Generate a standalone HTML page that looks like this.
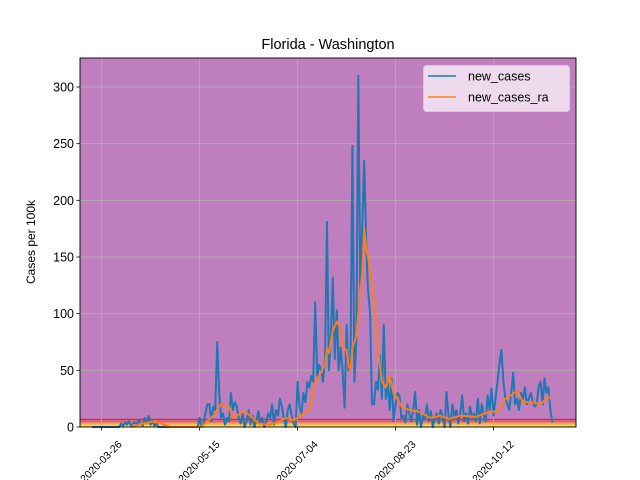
<!DOCTYPE html>
<html><head><meta charset="utf-8"><style>
html,body{margin:0;padding:0;background:#fff;}
svg{display:block;font-family:"Liberation Sans","DejaVu Sans",sans-serif;}
</style></head><body>
<svg id="chart" width="640" height="480" viewBox="0 0 640 480" xmlns="http://www.w3.org/2000/svg">
<rect x="0" y="0" width="640" height="480" fill="#fff"/>
<text x="328" y="49" font-size="14.5" text-anchor="middle" fill="#000">Florida - Washington</text>
<text transform="translate(35,242) rotate(-90)" font-size="12" text-anchor="middle" fill="#000">Cases per 100k</text>
<g id="plot"></g>
</svg>
<script>
// days since 2020-03-15
const blueStart = 6;
const blueValues = [
0,0,0,0,0,0,0,0,0,0,0,0,0,0,0,
3,1,4,2,5,1,3,4,2,6,3,1,8,3,10,2,5,1,3,0,
0,0,0,0,0,0,0,0,0,0,0,0,0,0,0,0,0,0,0,0,8,
0,3,12,20,20,5,18,15,75,30,8,12,2,8,5,30,15,22,18,8,3,12,0,5,15,2,10,0,6,14,3,8,0,5,12,8,20,2,15,10,
25,18,8,0,15,20,10,3,0,40,18,12,30,22,40,35,45,40,110,45,55,50,40,
60,181,50,80,132,60,103,50,70,50,17,90,50,60,248,40,77,310,120,178,235,160,120,100,20,20,40,33,63,25,90,25,40,15,43,5,
20,30,28,8,10,4,20,12,5,15,31,2,15,0,10,8,20,5,14,0,8,12,3,15,10,0,31,10,0,20,8,15,3,12,28,5,12,3,18,8,
12,5,25,3,20,10,5,28,15,34,10,25,40,55,68,40,25,20,15,30,48,20,25,15,30,25,35,20,25,30,22,18,20,35,40,20,43,30,35,15,4
];
const raDays = [26,32,38,46,61,63,68,72,76,78,82,84,88,91,97,102,105,109,114,117,120,122,125,126,127,129,131,133,134,136,137,138,139,141,143,144,145,146,147,150,152,154,156,158,160,162,164,168,172,179,184,188,194,202,210,213,217,220,223,226,230,235,239,240];
const raValues = [0,3,5,0,0,2,10,20,18,8,12,14,8,3,2,5,8,6,12,15,40,45,55,70,65,85,93,88,70,68,55,50,70,80,120,135,175,157,150,110,70,40,35,45,30,25,18,15,14,8,10,7,10,9,14,13,25,28,32,22,22,20,27,25];
const yTicks = [0,50,100,150,200,250,300];
const xTickDays = [11,61,111,161,211];
const xTickLabels = ["2020-03-26","2020-05-15","2020-07-04","2020-08-23","2020-10-12"];
const bands = [[0,2.2,"#f5d84a"],[2.2,4,"#f5a25a"],[4,6.7,"#e0607a"]];

const L=80,R=576,T=58,B=427;
const X = d => L + d*1.96;
const Y = v => B - v*(340/300);
const NS="http://www.w3.org/2000/svg";
const g=document.getElementById('plot');
function mk(tag,attrs,parent){const e=document.createElementNS(NS,tag);for(const k in attrs)e.setAttribute(k,attrs[k]);(parent||g).appendChild(e);return e;}

let bg=mk('rect',{x:L,y:T,width:R-L,height:B-T,fill:'#bf7fbf'});


bands.forEach(b=>{
  const r=mk('rect',{x:L,y:Y(b[1]),width:R-L,height:Y(b[0])-Y(b[1]),fill:b[2]});
  
  
});
let tl=mk('line',{x1:L,x2:R,y1:Y(6.7),y2:Y(6.7),stroke:'#c0306a','stroke-width':1.2});


yTicks.forEach(v=>{
  const l=mk('line',{x1:L,x2:R,y1:Y(v),y2:Y(v),stroke:'#b0b0b0','stroke-width':0.8});
  
  
  mk('line',{x1:L-3.5,x2:L,y1:Y(v),y2:Y(v),stroke:'#000','stroke-width':0.8});
  const t=mk('text',{x:L-6,y:Y(v)+4.5,'font-size':12.5,'text-anchor':'end',fill:'#000'});
  t.textContent=v;
  
  
});
xTickDays.forEach((d,i)=>{
  const l=mk('line',{x1:X(d),x2:X(d),y1:T,y2:B,stroke:'#b0b0b0','stroke-width':0.8});
  
  
  mk('line',{x1:X(d),x2:X(d),y1:B,y2:B+3.5,stroke:'#000','stroke-width':0.8});
  const t=mk('text',{transform:`translate(${X(d)+2},${B+37}) rotate(-45)`,'font-size':10.5,'text-anchor':'middle',fill:'#000'});
  t.textContent=xTickLabels[i];
  
  
});
const bp=blueValues.map((v,i)=>X(blueStart+i).toFixed(1)+','+Y(v).toFixed(1)).join(' ');
let bl=mk('polyline',{points:bp,fill:'none',stroke:'#1f77b4','stroke-width':2,'stroke-linejoin':'round'});


const op=raValues.map((v,i)=>X(raDays[i]).toFixed(1)+','+Y(v).toFixed(1)).join(' ');
let ol=mk('polyline',{points:op,fill:'none',stroke:'#ff7f0e','stroke-width':2,'stroke-linejoin':'round'});


let fr=mk('rect',{x:L,y:T,width:R-L,height:B-T,fill:'none',stroke:'#000','stroke-width':0.9});


const lg=mk('g',{});


mk('rect',{x:423.5,y:65.5,width:146,height:46,rx:3,fill:'#f2e5f2','fill-opacity':0.9,stroke:'#d8cad8'},lg);
[['new_cases','#1f77b4',76],['new_cases_ra','#ff7f0e',97]].forEach(e=>{
  const eg=mk('g',{},lg);
  
  
  mk('line',{x1:428,x2:456,y1:e[2],y2:e[2],stroke:e[1],'stroke-width':1.5},eg);
  const t=mk('text',{x:468,y:e[2]+4.5,'font-size':12.5,fill:'#000'},eg);
  t.textContent=e[0];
});
</script>
</body></html>
